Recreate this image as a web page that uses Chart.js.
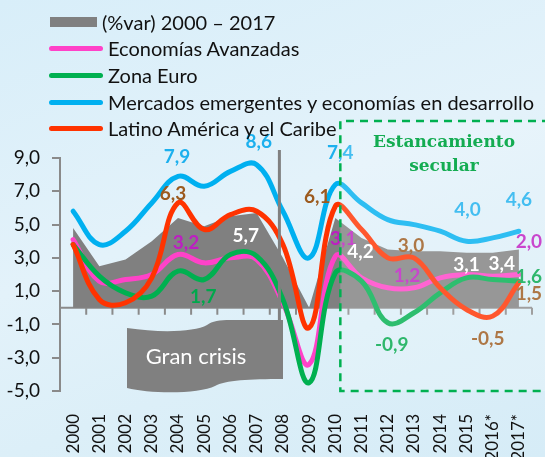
<!DOCTYPE html>
<html lang="es">
<head>
<meta charset="utf-8">
<title>Crecimiento del PIB 2000–2017</title>
<script src="https://cdn.jsdelivr.net/npm/chart.js@4.4.1/dist/chart.umd.min.js"></script>
<style>
  html, body { margin: 0; padding: 0; }
  body {
    width: 545px; height: 457px; overflow: hidden;
    background: linear-gradient(160deg, #d8eef9 0%, #e3f2fa 45%, #dcefF8 70%, #d6ecf7 100%);
    font-family: Lato, 'Open Sans', sans-serif;
  }
  .wrap { position: relative; width: 545px; height: 457px; }
  .legend-row { position: absolute; left: 0; white-space: nowrap; font-size: 20px; line-height: 20px; color: #111; }
  .legend-row .sw { position: absolute; }
  .legend-row .tx { position: absolute; top: 0; }
</style>
</head>
<body>
<div class="wrap">
  <canvas id="growthChart"></canvas>
  <div id="legend"></div>
</div>
<script>
const years = ['2000', '2001', '2002', '2003', '2004', '2005', '2006', '2007', '2008',
  '2009', '2010', '2011', '2012', '2013', '2014', '2015', '2016*', '2017*'];

// world growth (gray area)
const world = [4.8, 2.5, 2.9, 4.0, 5.4, 4.9, 5.5, 5.7, 3.0, 0.0, 5.4, 4.2, 3.5, 3.4, 3.4, 3.3, 3.3, 3.5];
const advanced = [4.1, 1.6, 1.7, 2.0, 3.2, 2.7, 3.0, 2.9, 0.3, -3.4, 3.1, 1.8, 1.2, 1.2, 1.8, 2.0, 1.9, 2.0];
const euro = [3.8, 1.9, 0.9, 0.7, 2.2, 1.7, 3.2, 3.1, 0.5, -4.5, 2.1, 1.6, -0.9, -0.3, 0.9, 1.8, 1.7, 1.6];
const emerging = [5.8, 3.8, 4.6, 6.3, 7.9, 7.3, 8.2, 8.6, 5.8, 3.0, 7.4, 6.3, 5.3, 5.0, 4.6, 4.0, 4.2, 4.6];
const latam = [3.8, 0.5, 0.3, 1.8, 6.3, 4.7, 5.6, 5.8, 3.8, -1.2, 6.1, 4.7, 3.0, 3.0, 1.2, -0.1, -0.5, 1.5];

const yTicks = [-5, -3, -1, 1, 3, 5, 7, 9];

// value labels: [series, year index, text]
const valueLabels = [
  ['emerging', 4, '7,9'], ['emerging', 7, '8,6'], ['latam', 4, '6,3'], ['advanced', 4, '3,2'],
  ['world', 7, '5,7'], ['euro', 5, '1,7'], ['latam', 10, '6,1'], ['emerging', 10, '7,4'],
  ['advanced', 10, '3,1'], ['world', 11, '4,2'], ['latam', 13, '3,0'], ['advanced', 13, '1,2'],
  ['euro', 12, '-0,9'], ['emerging', 15, '4,0'], ['emerging', 17, '4,6'], ['advanced', 17, '2,0'],
  ['world', 15, '3,1'], ['world', 16, '3,4'], ['euro', 17, '1,6'], ['latam', 17, '1,5'],
  ['latam', 16, '-0,5']
];
// pixel offsets for the labels above, same order
const labelOffsets = [
  [-1, -19], [2, -23], [-5, -9], [8, -12],
  [-11, 23], [-1, 17], [-18, -9], [5, -32],
  [8, -17], [-1, 14], [-3, -12], [-7, -12],
  [4, 22], [1, -31], [0, -31], [10, -33],
  [0, 12], [9, 11], [10, -4], [10, 11],
  [-5, 23]
];

const series = { world, advanced, euro, emerging, latam };
const colors = {
  world: '#808080', advanced: '#ff42c8', euro: '#00b050', emerging: '#00b0f0', latam: '#ff3300'
};
const labelColors = {
  world: '#ffffff', advanced: '#bd1ec2', euro: '#00a84c', emerging: '#1cb0ee', latam: '#9c5a1e'
};

// legend (html)
const legendItems = [
  ['world', '(%var) 2000 – 2017'],
  ['advanced', 'Economías Avanzadas'],
  ['euro', 'Zona Euro'],
  ['emerging', 'Mercados emergentes y economías en desarrollo'],
  ['latam', 'Latino América y el Caribe']
];
const legendEl = document.getElementById('legend');
legendItems.forEach(([key, name], i) => {
  const row = document.createElement('div');
  row.className = 'legend-row';
  row.style.top = (11.5 + 26.7 * i) + 'px';
  const sw = document.createElement('span');
  sw.className = 'sw';
  const tx = document.createElement('span');
  tx.className = 'tx';
  tx.textContent = name;
  if (key === 'world') {
    Object.assign(sw.style, { left: '50px', top: '5px', width: '47px', height: '10px', background: colors[key] });
    tx.style.left = '102px';
  } else {
    Object.assign(sw.style, { left: '49px', top: '8px', width: '54px', height: '5px', borderRadius: '3px', background: colors[key] });
    tx.style.left = '108px';
  }
  row.appendChild(sw);
  row.appendChild(tx);
  legendEl.appendChild(row);
});

const fmt = v => v.toFixed(1).replace('.', ',');

const decorPlugin = {
  id: 'decor',
  beforeDatasetsDraw(chart) {
    const { ctx, chartArea, scales: { x, y } } = chart;
    const y0 = y.getPixelForValue(0);
    const half = (x.getPixelForValue(1) - x.getPixelForValue(0)) / 2;
    ctx.save();
    ctx.strokeStyle = '#8a8a8a';
    ctx.lineWidth = 2;
    ctx.beginPath();
    ctx.moveTo(chartArea.left, y0);
    ctx.lineTo(chartArea.right, y0);
    for (let i = 0; i < years.length; i++) {
      const px = x.getPixelForValue(i) + half;
      ctx.moveTo(px, y0);
      ctx.lineTo(px, y0 + 7);
    }
    ctx.stroke();
    ctx.restore();
  },
  afterDatasetsDraw(chart) {
    const { ctx, chartArea, scales: { x, y } } = chart;
    ctx.save();

    // "Gran crisis" banner + marker bar
    ctx.fillStyle = '#808080';
    ctx.fillRect(x.getPixelForValue(8) - 5, 150, 3, 175);
    ctx.beginPath();
    ctx.moveTo(127, 328);
    ctx.bezierCurveTo(160, 333, 195, 332, 207, 325);
    ctx.bezierCurveTo(212, 321, 220, 320, 230, 320);
    ctx.lineTo(283, 320);
    ctx.lineTo(283, 379);
    ctx.bezierCurveTo(250, 379, 225, 380, 215, 386);
    ctx.bezierCurveTo(200, 394, 150, 394, 127, 388);
    ctx.closePath();
    ctx.fill();
    ctx.fillStyle = '#ffffff';
    ctx.font = '22px Lato';
    ctx.textAlign = 'center';
    ctx.textBaseline = 'middle';
    ctx.fillText('Gran crisis', 196, 357);

    // value labels
    ctx.font = 'bold 19px Lato';
    valueLabels.forEach(([key, idx, text], i) => {
      const [dx, dy] = labelOffsets[i];
      ctx.fillStyle = labelColors[key];
      ctx.fillText(text, x.getPixelForValue(idx) + dx, y.getPixelForValue(series[key][idx]) + dy);
    });

    // "Estancamiento secular" box
    const boxLeft = x.getPixelForValue(10) + 5;
    const boxTop = 121;
    const right = chart.width + 5;
    ctx.fillStyle = 'rgba(255,255,255,0.18)';
    ctx.fillRect(boxLeft, boxTop, right - boxLeft, chartArea.bottom - boxTop);
    ctx.strokeStyle = '#00b050';
    ctx.lineWidth = 2.5;
    ctx.setLineDash([8, 6]);
    ctx.beginPath();
    ctx.moveTo(right, boxTop);
    ctx.lineTo(boxLeft, boxTop);
    ctx.lineTo(boxLeft, chartArea.bottom);
    ctx.lineTo(right, chartArea.bottom);
    ctx.stroke();
    ctx.setLineDash([]);
    ctx.fillStyle = '#14ac52';
    ctx.font = 'bold 17px "DejaVu Serif"';
    ctx.fillText('Estancamiento', 444, 143);
    ctx.fillText('secular', 444, 167);
    ctx.restore();
  }
};

const lineDs = key => ({
  type: 'line',
  data: series[key],
  borderColor: colors[key],
  borderWidth: 5,
  pointRadius: 0,
  tension: 0.4,
  fill: false,
  borderCapStyle: 'round'
});

Chart.defaults.font.family = 'Lato';
new Chart(document.getElementById('growthChart'), {
  type: 'line',
  data: {
    labels: years,
    datasets: [
      lineDs('latam'),
      lineDs('euro'),
      lineDs('advanced'),
      lineDs('emerging'),
      { type: 'line', data: world, fill: 'origin', backgroundColor: colors.world,
        borderWidth: 0, pointRadius: 0, tension: 0 }
    ]
  },
  options: {
    responsive: true,
    maintainAspectRatio: false,
    animation: false,
    layout: { padding: { top: 158, right: 13, left: 0, bottom: 0 } },
    plugins: { legend: { display: false }, tooltip: { enabled: false } },
    scales: {
      x: {
        offset: true,
        grid: { display: false, drawTicks: false },
        border: { display: false },
        ticks: { minRotation: 90, maxRotation: 90, autoSkip: false, padding: 23, color: '#111', font: { size: 17 } },
        afterFit: s => { s.height = 66; s.paddingLeft = 0; s.paddingRight = 0; }
      },
      y: {
        min: -5, max: 9,
        afterBuildTicks: s => { s.ticks = yTicks.map(v => ({ value: v })); },
        grid: { drawOnChartArea: false, drawTicks: true, tickLength: 8, color: '#8a8a8a', lineWidth: 2 },
        border: { color: '#8a8a8a', width: 2 },
        ticks: { padding: 12, color: '#111', font: { size: 19 }, callback: v => fmt(v) },
        afterFit: s => { s.width = 60; s.paddingTop = 0; s.paddingBottom = 0; }
      }
    }
  },
  plugins: [decorPlugin]
});
</script>
</body>
</html>
